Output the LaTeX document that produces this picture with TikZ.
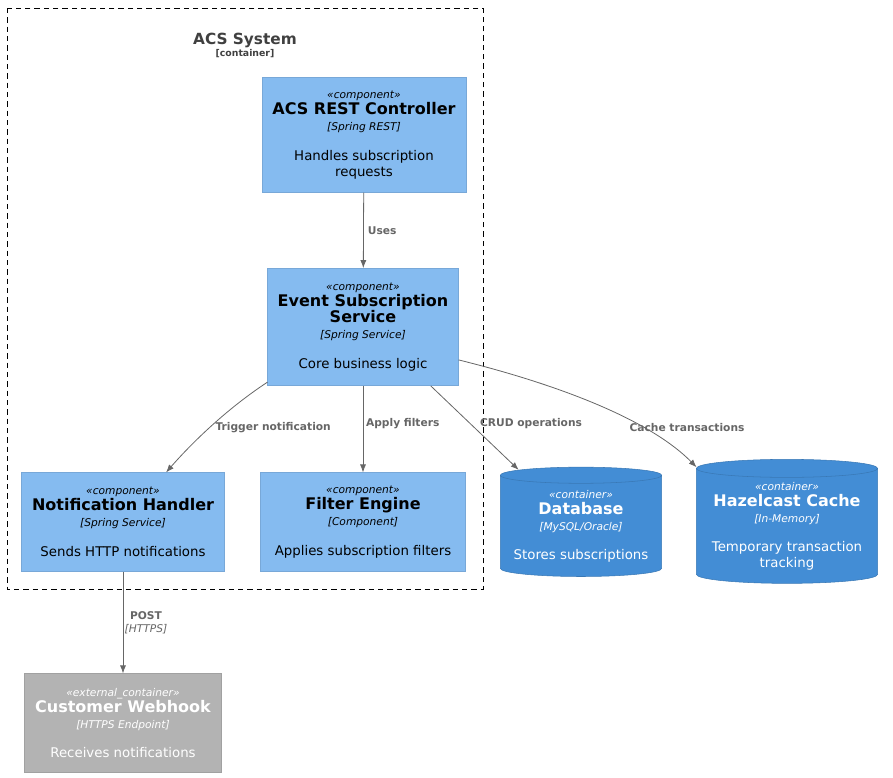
\documentclass[tikz,border=0pt]{standalone}
\usepackage{fontspec}
\setmainfont{DejaVu Sans}
\usetikzlibrary{shapes.geometric,arrows.meta}
\definecolor{compblue}{HTML}{85BBF0}
\definecolor{contblue}{HTML}{438DD5}
\definecolor{extgrey}{HTML}{B3B3B3}
\definecolor{linegrey}{HTML}{666666}
\tikzset{
  comp/.style={fill=compblue, draw=compblue!90!black, line width=0.3pt, align=center, inner sep=0pt},
  dbase/.style={cylinder, shape border rotate=90, aspect=0.12, fill=contblue, draw=contblue!85!black,
    text=white, align=center, inner sep=0pt},
  ext/.style={fill=extgrey, draw=extgrey!90!black, text=white, align=center, inner sep=0pt},
  rel/.style={draw=linegrey, line width=0.6pt, -{Latex[length=6pt,width=4.5pt]}},
  rlab/.style={text=linegrey, font=\fontsize{8}{9}\selectfont\bfseries, inner sep=1pt},
}
\newcommand{\stereo}[1]{\fontsize{8}{9.5}\selectfont\itshape «#1»}
\newcommand{\ctitle}[1]{\fontsize{12}{14}\selectfont\bfseries #1}
\newcommand{\tech}[1]{\fontsize{8}{10}\selectfont\itshape [#1]}
\newcommand{\body}{\fontsize{10}{12}\selectfont}
\begin{document}
\begin{tikzpicture}[x=0.75pt,y=-0.75pt]
  \useasboundingbox (0,0) rectangle (893,778);
  % boundary
  \draw[dash pattern=on 4pt off 3pt, line width=0.5pt] (7,8) rectangle (483,589);
  \node[text=black!75, align=center] (sys) at (245,45)
    {\fontsize{11.5}{13}\selectfont\bfseries ACS System\\[-3pt]\fontsize{7}{8}\selectfont\bfseries [container]};
  % components
  \node[comp, minimum width=153pt, minimum height=86pt] (rest) at (364,135)
    {\stereo{component}\\\ctitle{ACS REST Controller}\\\tech{Spring REST}\\[10pt]\body Handles subscription\\\body requests};
  \node[comp, minimum width=143pt, minimum height=88pt] (ess) at (363,327)
    {\stereo{component}\\\ctitle{Event Subscription}\\\ctitle{Service}\\\tech{Spring Service}\\[10pt]\body Core business logic};
  \node[comp, minimum width=152pt, minimum height=74pt] (notif) at (123,522)
    {\stereo{component}\\\ctitle{Notification Handler}\\\tech{Spring Service}\\[10pt]\body Sends HTTP notifications};
  \node[comp, minimum width=154pt, minimum height=74pt] (filter) at (363,522)
    {\stereo{component}\\\ctitle{Filter Engine}\\\tech{Component}\\[10pt]\body Applies subscription filters};
  % containers
  \node[dbase, minimum width=121pt, minimum height=82pt] (db) at (581,526)
    {\stereo{container}\\\ctitle{Database}\\\tech{MySQL/Oracle}\\[10pt]\body Stores subscriptions};
  \node[dbase, minimum width=136pt, minimum height=93pt] (cache) at (787,526)
    {\stereo{container}\\\ctitle{Hazelcast Cache}\\\tech{In-Memory}\\[10pt]\body Temporary transaction\\\body tracking};
  \node[ext, minimum width=148pt, minimum height=74pt] (hook) at (123,723)
    {\stereo{external\_container}\\\ctitle{Customer Webhook}\\\tech{HTTPS Endpoint}\\[10pt]\body Receives notifications};
  % relations
  \draw[rel] (rest) -- (ess) node[rlab, pos=0.5, right=2pt] {Uses};
  \draw[rel] (ess.210) .. controls (225,410) and (190,445) .. (notif.49)
    node[rlab, pos=0.5, anchor=west, xshift=3pt] {Trigger notification};
  \draw[rel] (ess) -- (filter) node[rlab, pos=0.43, right=1pt] {Apply filters};
  \draw[rel] (ess.-41) -- (db.138) node[rlab, pos=0.45, anchor=west, xshift=6pt] {CRUD operations};
  \draw[rel] (ess.-19) .. controls (560,385) and (650,420) .. (cache.147)
    node[rlab, pos=0.7, anchor=south west, xshift=-12pt, yshift=-4pt] {Cache transactions};
  \draw[rel] (notif) -- (hook) node[pos=0.5, right, align=center, inner sep=1pt, text=linegrey]
    {\fontsize{8}{9}\selectfont\bfseries POST\\[-2pt]\fontsize{8}{9}\selectfont\itshape [HTTPS]};
\end{tikzpicture}
\end{document}
